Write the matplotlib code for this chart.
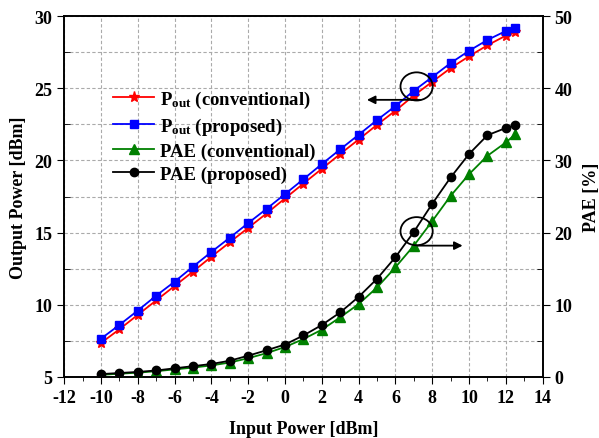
import matplotlib
matplotlib.use('Agg')
import matplotlib.pyplot as plt
from matplotlib.patches import Ellipse
from matplotlib.ticker import MultipleLocator
import numpy as np

plt.rcParams['font.family'] = 'Liberation Serif'
plt.rcParams['font.weight'] = 'bold'
plt.rcParams['axes.unicode_minus'] = False
plt.rcParams['mathtext.fontset'] = 'custom'
plt.rcParams['mathtext.rm'] = 'Liberation Serif:bold'
plt.rcParams['mathtext.it'] = 'Liberation Serif:bold'
plt.rcParams['mathtext.bf'] = 'Liberation Serif:bold'
plt.rcParams['mathtext.default'] = 'bf'

# Data
pin = [-10, -9, -8, -7, -6, -5, -4, -3, -2, -1, 0, 1, 2, 3, 4, 5, 6, 7, 8, 9, 10, 11, 12, 12.5]

pout_conv = [7.35, 8.3, 9.3, 10.3, 11.3, 12.3, 13.33, 14.33, 15.33, 16.33, 17.37, 18.4, 19.42,
             20.45, 21.45, 22.47, 23.45, 24.5, 25.45, 26.4, 27.22, 27.98, 28.65, 28.9]
pout_prop = [7.65, 8.6, 9.6, 10.63, 11.6, 12.64, 13.66, 14.65, 15.66, 16.65, 17.67, 18.7, 19.75,
             20.77, 21.78, 22.8, 23.77, 24.83, 25.78, 26.75, 27.6, 28.35, 28.97, 29.2]

pae_conv = [0.3, 0.45, 0.6, 0.8, 1.05, 1.3, 1.6, 2.0, 2.6, 3.3, 4.15, 5.25, 6.55,
            8.27, 10.1, 12.4, 15.2, 18.2, 21.6, 25.1, 28.1, 30.65, 32.5, 33.6]
pae_prop = [0.4, 0.55, 0.7, 0.9, 1.2, 1.5, 1.8, 2.25, 2.95, 3.7, 4.5, 5.75, 7.2,
            8.95, 11.1, 13.6, 16.6, 20.1, 24.0, 27.65, 30.9, 33.5, 34.5, 34.9]

labels = [r'P$_{out}$ (conventional)', r'P$_{out}$ (proposed)',
          'PAE (conventional)', 'PAE (proposed)']

fig = plt.figure(figsize=(5.99, 4.39), dpi=100)
ax = fig.add_axes([0.107, 0.139, 0.799, 0.822])
ax2 = ax.twinx()

l1, = ax.plot(pin, pout_conv, color='red', marker='*', markersize=8, lw=1.3)
l2, = ax.plot(pin, pout_prop, color='blue', marker='s', markersize=6, lw=1.3)
l3, = ax2.plot(pin, pae_conv, color='green', marker='^', markersize=7, lw=1.3)
l4, = ax2.plot(pin, pae_prop, color='black', marker='o', markersize=6, lw=1.3)

ax.set_xlim(-12, 14)
ax.set_ylim(5, 30)
ax2.set_ylim(0, 50)

ax.xaxis.set_major_locator(MultipleLocator(2))
ax.xaxis.set_minor_locator(MultipleLocator(1))
ax.yaxis.set_major_locator(MultipleLocator(5))
ax.yaxis.set_minor_locator(MultipleLocator(2.5))
ax2.yaxis.set_major_locator(MultipleLocator(10))
ax2.yaxis.set_minor_locator(MultipleLocator(5))

ax.grid(True, which='major', axis='x', color='#aaaaaa', linestyle=(0, (3, 2)), lw=0.8)
ax.grid(True, which='both', axis='y', color='#aaaaaa', linestyle=(0, (3, 2)), lw=0.8)
ax.set_axisbelow(True)

ax.tick_params(axis='x', which='major', direction='out', length=5, labelsize=13)
ax.tick_params(axis='x', which='minor', direction='out', length=3)
ax.tick_params(axis='y', which='major', direction='out', length=5, labelsize=13)
ax.tick_params(axis='y', which='minor', direction='in', length=4)
ax2.tick_params(axis='y', which='major', direction='out', length=5, labelsize=13)
ax2.tick_params(axis='y', which='minor', direction='in', length=4)
for t in ax.get_xticklabels() + ax.get_yticklabels() + ax2.get_yticklabels():
    t.set_fontweight('bold')

for a in (ax, ax2):
    for s in a.spines.values():
        s.set_linewidth(1.2)

ax.set_xlabel('Input Power [dBm]', fontsize=13, fontweight='bold', labelpad=10)
ax.set_ylabel('Output Power [dBm]', fontsize=13, fontweight='bold', labelpad=5)
ax2.set_ylabel('PAE [%]', fontsize=13, fontweight='bold', labelpad=8)

# annotations: circles with arrows
ax.add_patch(Ellipse((7.15, 25.13), 1.75, 1.95, fill=False, edgecolor='black', lw=1.3, zorder=5))
ax.annotate('', xy=(4.3, 24.2), xytext=(7.5, 24.2),
            arrowprops=dict(arrowstyle='-|>', color='black', lw=1.3, mutation_scale=12))
ax2.add_patch(Ellipse((7.15, 20.2), 1.75, 3.9, fill=False, edgecolor='black', lw=1.3, zorder=5))
ax2.annotate('', xy=(9.8, 18.2), xytext=(7.05, 18.2),
             arrowprops=dict(arrowstyle='-|>', color='black', lw=1.3, mutation_scale=12))

leg = ax.legend([l1, l2, l3, l4], labels, loc='upper left', bbox_to_anchor=(0.075, 0.835),
                frameon=False, fontsize=13.5, handlelength=2.2, handletextpad=0.3,
                labelspacing=0.3, borderpad=0.2)

fig.savefig('out.png', dpi=100)
